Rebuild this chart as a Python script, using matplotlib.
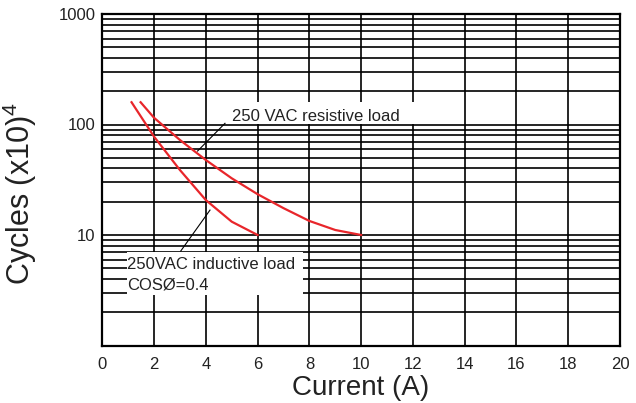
import numpy as np
import matplotlib
matplotlib.use("Agg")
import matplotlib.pyplot as plt
from matplotlib.patches import Rectangle

plt.rcParams['font.family'] = ['Liberation Sans', 'DejaVu Sans']
plt.rcParams['mathtext.fontset'] = 'custom'
plt.rcParams['mathtext.rm'] = 'Liberation Sans'
plt.rcParams['mathtext.it'] = 'Liberation Sans'

# curves (current in A, cycles x10^4)
resistive_x = [1.48, 2, 3, 4, 5, 6, 7, 8, 9, 10]
resistive_y = [159, 115, 72.4, 47.7, 32.6, 23.4, 17.5, 13.4, 11.1, 10]
inductive_x = [1.13, 2, 3, 4, 5, 6]
inductive_y = [159, 77.6, 38.7, 20.7, 13.2, 10]

x_ticks = list(range(0, 21, 2))
y_ticks = [1, 10, 100, 1000]
y_tick_labels = ['', '10', '100', '1000']

red = '#e8262b'
ink = '#222222'

fig = plt.figure(figsize=(6.36, 4.03), dpi=100)
ax = fig.add_axes([102.3 / 636, 1 - 345.5 / 403, 517.7 / 636, 331.5 / 403])

ax.set_yscale('log')
ax.set_xlim(0, 20)
ax.set_ylim(1, 1000)
ax.set_xticks(x_ticks)
ax.set_yticks(y_ticks)
ax.set_yticklabels(y_tick_labels)
ax.yaxis.set_minor_locator(matplotlib.ticker.LogLocator(base=10, subs=np.arange(2, 10)))
ax.yaxis.set_minor_formatter(matplotlib.ticker.NullFormatter())
ax.tick_params(which='both', length=0, labelsize=12, colors=ink)
ax.tick_params(axis='x', pad=8)
ax.tick_params(axis='y', pad=5)

ax.grid(True, which='major', color='black', lw=1.2)
ax.grid(True, which='minor', axis='y', color='black', lw=1.2)
ax.set_axisbelow(True)
for sp in ax.spines.values():
    sp.set_linewidth(1.6)
    sp.set_color('black')

# white label boxes covering the grid
ax.add_patch(Rectangle((4.05, 101), 9.9, 58, facecolor='white', edgecolor='none', zorder=1.5))
ax.add_patch(Rectangle((0.94, 2.85), 6.82, 4.1, facecolor='white', edgecolor='none', zorder=1.5))

ax.plot(resistive_x, resistive_y, color=red, lw=1.6, zorder=3)
ax.plot(inductive_x, inductive_y, color=red, lw=1.6, zorder=3)

ax.text(5.0, 107.7, '250 VAC resistive load', fontsize=12, color=ink, va='baseline', zorder=4)
ax.plot([4.74, 3.68], [102.5, 57.5], color='black', lw=0.8, zorder=4)

ax.text(0.97, 4.92, '250VAC inductive load', fontsize=12, color=ink, va='baseline', zorder=4)
ax.text(0.97, 3.24, 'COSØ=0.4', fontsize=12, color=ink, va='baseline', zorder=4)
ax.plot([4.16, 3.03], [16.8, 7.16], color='black', lw=0.8, zorder=4)

fig.text(20 / 636, 1 - 193.5 / 403, 'Cycles (x10)$^{4}$', rotation=90, ha='center', va='center',
         fontsize=22, color=ink)
fig.text(361 / 636, 2 / 403, 'Current (A)', ha='center', va='bottom', fontsize=20, color=ink)

fig.savefig('out.png', dpi=100)
